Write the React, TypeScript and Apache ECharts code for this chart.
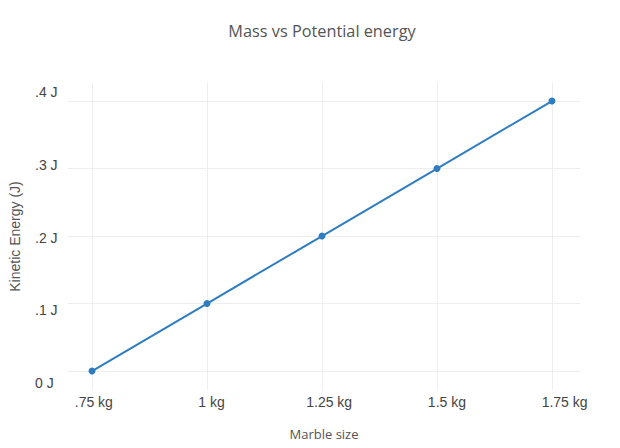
import React, { useEffect, useRef } from "react";
import * as echarts from "echarts";

const marbleSizes = [0.75, 1, 1.25, 1.5, 1.75];
const kineticEnergy = [0, 0.1, 0.2, 0.3, 0.4];
const xTickLabels = [".75 kg", "1 kg", "1.25 kg", "1.5 kg", "1.75 kg"];
const yTicks = [0, 0.1, 0.2, 0.3, 0.4];
const yTickLabels = ["0 J", ".1 J", ".2 J", ".3 J", ".4 J"];

export default function App() {
  const ref = useRef<HTMLDivElement>(null);
  useEffect(() => {
    document.body.style.margin = "0";
    if (!ref.current) return;
    const chart = echarts.init(ref.current, undefined, { renderer: "svg" });
    const tickFont = "Liberation Sans, Arial, sans-serif";
    const nameFont = "Open Sans, sans-serif";
    chart.setOption({
      animation: false,
      backgroundColor: "#ffffff",
      title: {
        text: "Mass vs Potential energy",
        left: 317,
        textAlign: "center",
        top: 18,
        textStyle: { fontFamily: nameFont, fontSize: 16.3, fontWeight: "normal", color: "#555" },
      },
      grid: { left: 68, right: 40, top: 83, bottom: 58, containLabel: false },
      xAxis: [
        {
          type: "value",
          min: 0.6978,
          max: 1.8109,
          axisLine: { show: false },
          axisTick: { show: false, customValues: marbleSizes },
          axisLabel: { show: false },
          splitLine: { show: true, lineStyle: { color: "#eeeeee", width: 1 } },
        },
        {
          type: "value",
          position: "bottom",
          min: 0.6952,
          max: 1.7827,
          axisLine: { show: false },
          axisTick: { show: false, customValues: marbleSizes },
          splitLine: { show: false },
          axisLabel: {
            customValues: marbleSizes,
            margin: 5,
            fontFamily: tickFont,
            fontSize: 14,
            color: "#444",
            formatter: (v: number) => xTickLabels[marbleSizes.indexOf(v)] ?? "",
          },
          name: "Marble size",
          nameLocation: "middle",
          nameGap: 37,
          nameTextStyle: { fontFamily: nameFont, fontSize: 13, color: "#555" },
        },
      ],
      yAxis: [
        {
          type: "value",
          min: -0.0281,
          max: 0.4267,
          axisLine: { show: false },
          axisTick: { show: false, customValues: yTicks },
          axisLabel: { show: false },
          splitLine: { show: true, lineStyle: { color: "#eeeeee", width: 1 } },
        },
        {
          type: "value",
          position: "left",
          min: -0.00962,
          max: 0.41237,
          axisLine: { show: false },
          axisTick: { show: false, customValues: yTicks },
          splitLine: { show: false },
          axisLabel: {
            customValues: yTicks,
            align: "left",
            margin: 33,
            fontFamily: tickFont,
            fontSize: 14,
            color: "#444",
            formatter: (v: number) => yTickLabels[yTicks.indexOf(v)] ?? "",
          },
          name: "Kinetic Energy (J)",
          nameLocation: "middle",
          nameGap: 46,
          nameTextStyle: { fontFamily: tickFont, fontSize: 14, color: "#555" },
        },
      ],
      series: [
        {
          type: "line",
          xAxisIndex: 0,
          yAxisIndex: 0,
          data: marbleSizes.map((x, i) => [x, kineticEnergy[i]]),
          symbol: "circle",
          symbolSize: 7,
          itemStyle: { color: "#2f7dc0" },
          lineStyle: { color: "#2f7dc0", width: 2 },
        },
      ],
    });
    return () => chart.dispose();
  }, []);
  return <div ref={ref} style={{ width: 620, height: 448 }} />;
}
